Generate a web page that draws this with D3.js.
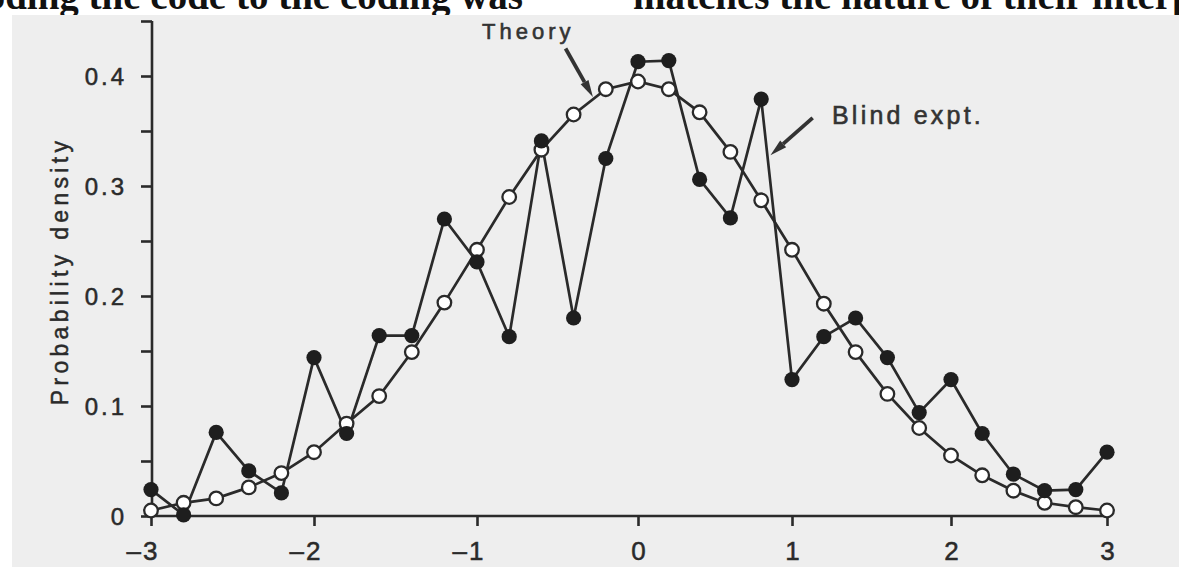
<!DOCTYPE html>
<html>
<head>
<meta charset="utf-8">
<script src="https://cdn.jsdelivr.net/npm/d3@7"></script>
<style>
  html, body { margin: 0; padding: 0; background: #fff; }
  svg { display: block; }
</style>
</head>
<body>
<svg id="chart" width="1179" height="567"></svg>
<script>
// ---- data ----
const xValues = [-3.0, -2.8, -2.6, -2.4, -2.2, -2.0, -1.8, -1.6, -1.4, -1.2, -1.0,
                 -0.8, -0.6, -0.4, -0.2, 0.0, 0.2, 0.4, 0.6, 0.8, 1.0,
                 1.2, 1.4, 1.6, 1.8, 2.0, 2.2, 2.4, 2.6, 2.8, 3.0];
const theory = [0.005, 0.012, 0.016, 0.026, 0.039, 0.058, 0.084, 0.109, 0.149, 0.194, 0.242,
                0.290, 0.333, 0.365, 0.388, 0.395, 0.388, 0.367, 0.331, 0.287, 0.242,
                0.193, 0.149, 0.111, 0.080, 0.055, 0.037, 0.023, 0.012, 0.008, 0.005];
const blind  = [0.024, 0.001, 0.076, 0.041, 0.021, 0.144, 0.075, 0.164, 0.164, 0.270, 0.231,
                0.163, 0.341, 0.180, 0.325, 0.413, 0.414, 0.306, 0.271, 0.379, 0.124,
                0.163, 0.180, 0.144, 0.094, 0.124, 0.075, 0.038, 0.023, 0.024, 0.058];
const xTicks = [-3, -2, -1, 0, 1, 2, 3];
const yTicks = [0, 0.05, 0.1, 0.15, 0.2, 0.25, 0.3, 0.35, 0.4, 0.45];
const yLabelTicks = [0, 0.1, 0.2, 0.3, 0.4];
const yTitle = "Probability density";
const theoryLabel = "Theory";
const blindLabel = "Blind expt.";
const pageTextLeft = "oding the code to the coding was";
const pageTextRight = "matches the nature of their interp";

// ---- drawing ----
const ink = "#2a2a2a";
const svg = d3.select("#chart");

// page fragment at top (clipped as in the scanned page)
svg.append("text").attr("x", 523).attr("y", 9)
  .attr("text-anchor", "end")
  .attr("font-family", "Liberation Serif, serif").attr("font-size", 39).attr("font-weight", "bold")
  .attr("fill", "#111").text(pageTextLeft);
svg.append("text").attr("x", 633).attr("y", 9)
  .attr("font-family", "Liberation Serif, serif").attr("font-size", 39).attr("font-weight", "bold")
  .attr("fill", "#111").text(pageTextRight);

// scanned figure background
svg.append("rect").attr("x", 12).attr("y", 15).attr("width", 1179 - 12).attr("height", 567 - 15)
  .attr("fill", "#eeeeee");

const x = d3.scaleLinear().domain(xTicks).range([151, 314, 477, 638, 792, 951, 1107]);
const y = d3.scaleLinear().domain([0, 0.45]).range([516, 21]);

const fontFam = "Liberation Sans, Arial, Helvetica, sans-serif";

// y axis
const yAxis = d3.axisLeft(y).tickValues(yTicks).tickSize(11).tickPadding(14)
  .tickFormat(d => yLabelTicks.some(v => Math.abs(v - d) < 1e-9) ? (d === 0 ? "0" : d3.format(".1f")(d)) : "");
const gy = svg.append("g").attr("transform", `translate(${x(-3) + 1},0)`).call(yAxis);
gy.select(".domain").attr("d", `M0,${y(0)}V${y(0.45)}`);
gy.selectAll("path, line").attr("stroke", ink).attr("stroke-width", 2.6);
gy.selectAll("text").attr("font-family", fontFam).attr("font-size", 24)
  .attr("letter-spacing", 3).attr("fill", ink).attr("stroke", ink).attr("stroke-width", 0.5)
  .attr("dy", "0.36em");

// x axis
const xAxis = d3.axisBottom(x).tickValues(xTicks).tickSize(10).tickPadding(14)
  .tickFormat(d => String(Math.abs(d)));
const gx = svg.append("g").attr("transform", `translate(0,${y(0)})`).call(xAxis);
gx.select(".domain").attr("d", `M${x(-3) + 1},0H${x(3)}`);
gx.selectAll("path, line").attr("stroke", ink).attr("stroke-width", 2.6);
gx.selectAll(".tick text").attr("font-family", fontFam).attr("font-size", 26)
  .attr("fill", ink).attr("stroke", ink).attr("stroke-width", 0.5).attr("dy", "0.75em")
  .each(function(d) {
    if (d < 0) {
      d3.select(this).attr("text-anchor", "end").attr("x", 8)
        .text("\u2013" + Math.abs(d)).attr("letter-spacing", 2);
    }
  });

// y title
svg.append("text")
  .attr("transform", `translate(68,271) rotate(-90)`)
  .attr("text-anchor", "middle")
  .attr("font-family", fontFam).attr("font-size", 23).attr("letter-spacing", 4.3)
  .attr("fill", ink).attr("stroke", ink).attr("stroke-width", 0.5).text(yTitle);

const pts = (vals) => xValues.map((xv, i) => [xv, vals[i]]);
const line = d3.line().x(d => x(d[0])).y(d => y(d[1]));

svg.append("path").datum(pts(theory)).attr("d", line)
  .attr("fill", "none").attr("stroke", ink).attr("stroke-width", 2.7);
svg.append("path").datum(pts(blind)).attr("d", line)
  .attr("fill", "none").attr("stroke", ink).attr("stroke-width", 2.7);

svg.append("g").selectAll("circle").data(pts(theory)).join("circle")
  .attr("cx", d => x(d[0])).attr("cy", d => y(d[1])).attr("r", 6.8)
  .attr("fill", "#ffffff").attr("stroke", ink).attr("stroke-width", 2.3);
svg.append("g").selectAll("circle").data(pts(blind)).join("circle")
  .attr("cx", d => x(d[0])).attr("cy", d => y(d[1])).attr("r", 7.6)
  .attr("fill", "#1e1e1e");

// annotations
svg.append("text").attr("x", 482).attr("y", 39)
  .attr("font-family", fontFam).attr("font-size", 22).attr("letter-spacing", 4)
  .attr("fill", "#333").attr("stroke", "#333").attr("stroke-width", 0.6).text(theoryLabel);
svg.append("text").attr("x", 832).attr("y", 124)
  .attr("font-family", fontFam).attr("font-size", 25).attr("letter-spacing", 3.2)
  .attr("fill", "#333").attr("stroke", "#333").attr("stroke-width", 0.6).text(blindLabel);

function arrow(x1, y1, x2, y2) {
  const ang = Math.atan2(y2 - y1, x2 - x1);
  const len = 17, half = 4.5;
  const bx = x2 - len * Math.cos(ang), by = y2 - len * Math.sin(ang);
  const px = -Math.sin(ang) * half, py = Math.cos(ang) * half;
  svg.append("line").attr("x1", x1).attr("y1", y1).attr("x2", bx).attr("y2", by)
    .attr("stroke", "#333").attr("stroke-width", 3.8);
  svg.append("path")
    .attr("d", `M${x2},${y2}L${bx + px},${by + py}L${bx - px},${by - py}Z`)
    .attr("fill", "#333");
}
// arrow endpoints expressed in data space
arrow(x(-0.45), y(0.425), x(-0.28), y(0.381));
arrow(x(1.13), y(0.362), x(0.86), y(0.328));
</script>
</body>
</html>
